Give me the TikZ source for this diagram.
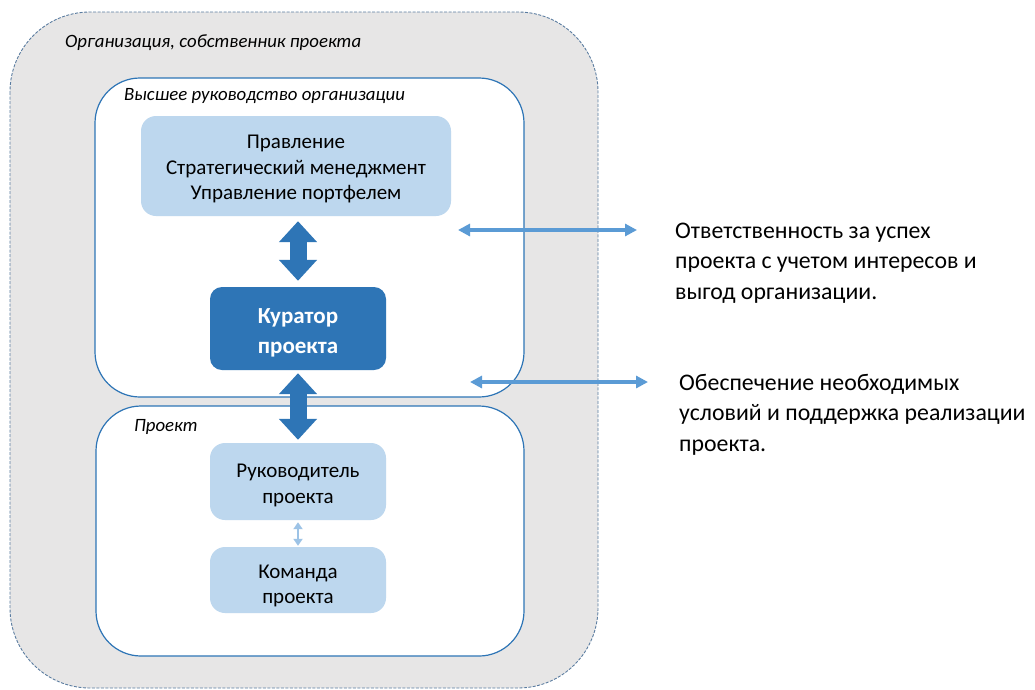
\documentclass[tikz,border=0pt]{standalone}
\usepackage{fontspec}
\setmainfont{Carlito}
\usetikzlibrary{arrows.meta}
\definecolor{lightbox}{HTML}{BDD7EE}
\definecolor{darkbox}{HTML}{2E75B6}
\definecolor{harrow}{HTML}{5B9BD5}
\definecolor{smallarrow}{HTML}{9DC3E6}
\definecolor{outerfill}{HTML}{E7E6E6}
\definecolor{outerline}{HTML}{5A7CA0}
\tikzset{
  outerbox/.style={draw=outerline, fill=outerfill, dashed, dash pattern=on 3pt off 1.5pt, line width=0.9pt, rounded corners=80pt},
  whitebox/.style={draw=darkbox, fill=white, line width=1.2pt, rounded corners=45pt, inner sep=0pt},
  lightnode/.style={fill=lightbox, rounded corners=15pt, inner sep=0pt},
  lighttext/.style={align=center, inner sep=0pt, font=\fontsize{21}{25.5}\selectfont},
  darknode/.style={fill=darkbox, rounded corners=12pt, inner sep=0pt},
  darktext/.style={align=center, inner sep=0pt, text=white, font=\fontsize{23}{30}\selectfont\bfseries},
  grouplabel/.style={anchor=west, font=\fontsize{18.8}{20}\selectfont\itshape, inner sep=0pt},
  sidetext/.style={anchor=north west, align=left, font=\fontsize{23.8}{30.5}\selectfont, inner sep=0pt},
  blockarrow/.style={draw=darkbox, line width=17pt, {Triangle[width=37pt,length=21pt]}-{Triangle[width=37pt,length=21pt]}},
  thinarrow/.style={draw=harrow, line width=3.6pt, {Triangle[width=12pt,length=12pt]}-{Triangle[width=12pt,length=12pt]}},
  tinyarrow/.style={draw=smallarrow, line width=2.5pt, {Triangle[width=9pt,length=7pt]}-{Triangle[width=9pt,length=7pt]}}
}
\begin{document}
\begin{tikzpicture}[x=1pt,y=-1pt]
\useasboundingbox (0,0) rectangle (1035,689);
% outer organisation box
\path[outerbox] (10,12) rectangle (598,688);
\node[grouplabel] (orglabel) at (65,43) {Организация, собственник проекта};
% top management box
\node[whitebox, minimum width=429pt, minimum height=319pt] (top) at (309.5,237.5) {};
\node[grouplabel] (toplabel) at (124,96) {Высшее руководство организации};
% project box
\node[whitebox, minimum width=428pt, minimum height=250pt] (proj) at (310,531) {};
\node[grouplabel] (projlabel) at (134,427) {Проект};
% inner boxes
\node[lightnode, minimum width=310pt, minimum height=100pt] (plan) at (296,166) {};
\node[lighttext] (plantext) at ([yshift=-3pt]plan.center) {Правление\\Стратегический менеджмент\\Управление портфелем};
\node[darknode, minimum width=176pt, minimum height=83pt] (cur) at (298,328.5) {};
\node[darktext] (curtext) at ([yshift=-4pt]cur.center) {Куратор\\проекта};
\node[lightnode, minimum width=176pt, minimum height=77pt] (ruk) at (298,481.5) {};
\node[lighttext] (ruktext) at ([yshift=-4pt]ruk.center) {Руководитель\\проекта};
\node[lightnode, minimum width=176pt, minimum height=66pt] (kom) at (298,580) {};
\node[lighttext] (komtext) at ([yshift=-6pt]kom.center) {Команда\\проекта};
% vertical arrows
\draw[blockarrow, shorten <=5pt, shorten >=6pt] (plan.south -| cur.north) -- (cur.north);
\draw[blockarrow, shorten <=3pt, shorten >=3pt] (cur.south) -- (ruk.north);
\draw[tinyarrow, shorten <=2pt, shorten >=1pt] (ruk.south) -- (kom.north);
% side texts
\node[sidetext] (t1) at (675,222.5) {Ответственность за успех\\проекта с учетом интересов и\\выгод организации.};
\node[sidetext] (t2) at (679,374) {Обеспечение необходимых\\условий и поддержка реализации\\проекта.};
\coordinate (a1) at (458,230);
\coordinate (b1) at (637,230);
\coordinate (a2) at (470,382);
\coordinate (b2) at (648,382);
\draw[thinarrow] (a1) -- (b1);
\draw[thinarrow] (a2) -- (b2);
\end{tikzpicture}
\end{document}
